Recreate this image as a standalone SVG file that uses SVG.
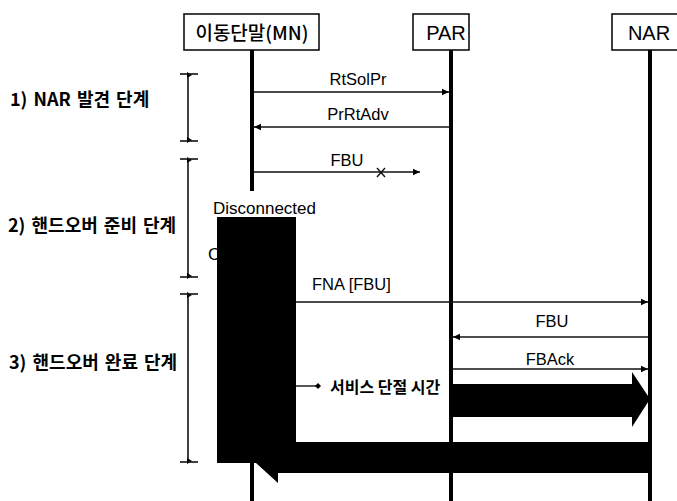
<svg xmlns="http://www.w3.org/2000/svg" width="677" height="501" viewBox="0 0 677 501">
<defs>
<style>
.box{fill:#fff;stroke:#111;stroke-width:1.6}
.life{stroke:#000;stroke-width:4;fill:none}
.msg{stroke:#111;stroke-width:1.4;fill:none}
.br{stroke:#111;stroke-width:1.6;fill:none}
.t{font-family:"Liberation Sans","Noto Sans CJK KR",sans-serif;fill:#000}
.k{font-family:"Noto Sans CJK KR","Liberation Sans",sans-serif;fill:#000}
.m{font-size:16.5px}
.ph{font-size:18px;font-weight:bold;word-spacing:2px}
</style>
<marker id="ah" markerWidth="8" markerHeight="8" refX="7" refY="4" orient="auto" markerUnits="userSpaceOnUse">
<path d="M0,0.8 L7,4 L0,7.2 Z" fill="#000"/>
</marker>
<marker id="bt" markerWidth="8" markerHeight="8" refX="4" refY="4" orient="auto" markerUnits="userSpaceOnUse">
<path d="M4,0 L7,5 L1,5 Z" fill="#000"/>
</marker>
</defs>
<rect width="677" height="501" fill="#fff"/>

<g id="MN">
<rect class="box" x="184" y="14" width="135" height="36"/>
<text class="k" x="252" y="40" font-size="19" font-weight="500" text-anchor="middle">이동단말(MN)</text>
<line class="life" x1="252" y1="50" x2="252" y2="191"/>
<line class="life" x1="252" y1="463" x2="252" y2="501"/>
</g>
<g id="PAR">
<rect class="box" x="413" y="14" width="56" height="36"/>
<text class="t" x="446" y="40" font-size="20" text-anchor="middle">PAR</text>
<line class="life" x1="451" y1="50" x2="451" y2="501"/>
</g>
<g id="NAR">
<rect class="box" x="612" y="14" width="70" height="36"/>
<text class="t" x="649" y="40" font-size="20" text-anchor="middle">NAR</text>
<line class="life" x1="650" y1="50" x2="650" y2="501"/>
</g>

<g id="phases">
<line class="br" x1="188" y1="75" x2="188" y2="140" marker-start="url(#bt)" marker-end="url(#bt)"/>
<line class="br" x1="180" y1="74" x2="198" y2="74"/>
<line class="br" x1="180" y1="141" x2="198" y2="141"/>
<text class="k ph" x="10" y="106">1) NAR 발견 단계</text>
<line class="br" x1="188" y1="160" x2="188" y2="276" marker-start="url(#bt)" marker-end="url(#bt)"/>
<line class="br" x1="180" y1="159" x2="198" y2="159"/>
<line class="br" x1="180" y1="277" x2="198" y2="277"/>
<text class="k ph" x="8" y="232">2) 핸드오버 준비 단계</text>
<line class="br" x1="188" y1="295" x2="188" y2="461" marker-start="url(#bt)" marker-end="url(#bt)"/>
<line class="br" x1="180" y1="294" x2="198" y2="294"/>
<line class="br" x1="180" y1="462" x2="198" y2="462"/>
<text class="k ph" x="9" y="369">3) 핸드오버 완료 단계</text>
</g>

<text class="t" x="208" y="260" font-size="17">C</text>

<g id="outage">
<polygon points="217,217 296,217 296,442 650,442 650,473 278,473 278,483 256,463 217,463" fill="#000"/>
<polygon points="453,384 632,384 632,372 650,399 632,427 632,417 453,417" fill="#000"/>
</g>
<text class="t" x="213" y="214" font-size="17">Disconnected</text>

<g id="connectors">
<line class="msg" x1="254" y1="92" x2="449" y2="92" marker-end="url(#ah)"/>
<text class="t m" x="358" y="85" text-anchor="middle">RtSolPr</text>
<line class="msg" x1="449" y1="127" x2="254" y2="127" marker-end="url(#ah)"/>
<text class="t m" x="358" y="120" text-anchor="middle">PrRtAdv</text>
<line class="msg" x1="254" y1="172" x2="420" y2="172" marker-end="url(#ah)"/>
<text class="t m" x="347" y="166" text-anchor="middle">FBU</text>
<path class="msg" d="M377,168 L385,177 M385,168 L377,177"/>
<line class="msg" x1="296" y1="302" x2="648" y2="302" marker-end="url(#ah)"/>
<text class="t m" x="312" y="290">FNA [FBU]</text>
<line class="msg" x1="648" y1="337" x2="453" y2="337" marker-end="url(#ah)"/>
<text class="t m" x="552" y="327" text-anchor="middle">FBU</text>
<line class="msg" x1="453" y1="369" x2="648" y2="369" marker-end="url(#ah)"/>
<text class="t m" x="550" y="365" text-anchor="middle">FBAck</text>
<line class="msg" x1="296" y1="386" x2="318" y2="386"/>
<path d="M318,383 L321,386 L318,389 L315,386 Z" fill="#000"/>
<text class="k" x="330" y="393" font-size="16" font-weight="bold">서비스 단절 시간</text>
</g>
</svg>
